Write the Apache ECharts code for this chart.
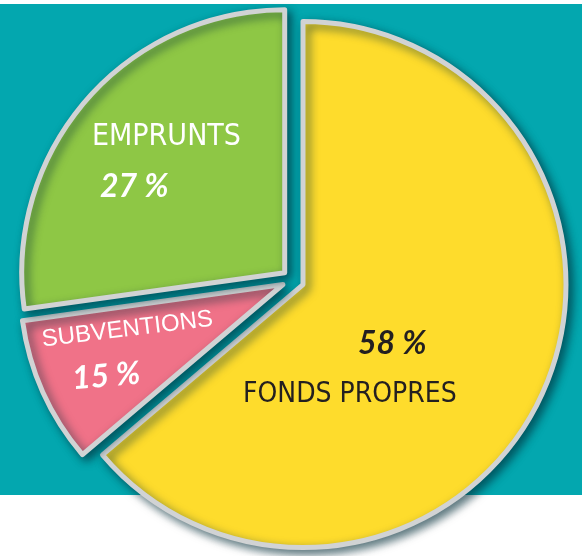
<!DOCTYPE html>
<html>
<head>
<meta charset="utf-8">
<script src="https://cdn.jsdelivr.net/npm/echarts@6/dist/echarts.min.js"></script>
<style>
  html, body { margin: 0; padding: 0; background: #fff; }
  #chart { width: 582px; height: 556px; }
</style>
</head>
<body>
<div id="chart"></div>
<script>
  // slices, clockwise from 12 o'clock
  const categories = ['FONDS PROPRES', 'SUBVENTIONS', 'EMPRUNTS'];
  // percentages printed on the artwork
  const printedPercent = [58, 15, 27];
  // wedge sizes as actually drawn in the artwork
  const wedgeShare = [63.8, 9.0, 27.2];

  const colors = ['#FEDC2C', '#F07288', '#8EC745'];
  const textColors = ['#231F20', '#FFFFFF', '#FFFFFF'];

  // where the two text lines of each slice sit (left edge, vertical middle of caps)
  const nameStyle = [
    { x: 243, y: 395, rot: 0, size: 28, font: '"DejaVu Sans Condensed", "Liberation Sans", sans-serif' },
    { x: 42, y: 340, rot: 7, size: 24, font: '"Liberation Sans", Arial, sans-serif' },
    { x: 92, y: 137, rot: 0, size: 30, font: '"DejaVu Sans Condensed", "Liberation Sans", sans-serif' }
  ];
  const pctStyle = [
    { x: 358, y: 344, rot: 0 },
    { x: 72, y: 379, rot: 5 },
    { x: 100, y: 187, rot: 0 }
  ];
  const pctFont = 'Lato, "Open Sans", sans-serif';

  const pieData = categories.map(function (name, i) {
    return {
      name: name,
      value: wedgeShare[i],
      selected: true,
      itemStyle: { color: colors[i] },
      select: { itemStyle: { color: colors[i] } }
    };
  });

  const texts = [];
  categories.forEach(function (name, i) {
    const n = nameStyle[i];
    const p = pctStyle[i];
    texts.push({
      type: 'text',
      z: 10,
      x: n.x,
      y: n.y,
      rotation: n.rot * Math.PI / 180,
      style: {
        text: name,
        fill: textColors[i],
        fontFamily: n.font,
        fontSize: n.size,
        align: 'left',
        verticalAlign: 'middle'
      }
    });
    texts.push({
      type: 'text',
      z: 10,
      x: p.x,
      y: p.y,
      rotation: p.rot * Math.PI / 180,
      style: {
        text: printedPercent[i] + ' %',
        fill: textColors[i],
        fontFamily: pctFont,
        fontStyle: 'italic',
        fontWeight: 'bold',
        fontSize: 32,
        align: 'left',
        verticalAlign: 'middle'
      }
    });
  });

  const chart = echarts.init(document.getElementById('chart'), null, { renderer: 'canvas' });

  chart.setOption({
    animation: false,
    graphic: [{
      type: 'rect',
      z: 0,
      shape: { x: 0, y: 4, width: 582, height: 491 },
      style: { fill: '#03A7AF' }
    }].concat(texts),
    series: [{
      type: 'pie',
      z: 2,
      center: [293, 280],
      radius: [0, 263],
      startAngle: 90,
      clockwise: true,
      selectedMode: 'multiple',
      selectedOffset: 11,
      emphasis: { disabled: true },
      itemStyle: {
        borderColor: '#D1D3D4',
        borderWidth: 5,
        shadowBlur: 10,
        shadowOffsetX: 4,
        shadowOffsetY: 4,
        shadowColor: 'rgba(0, 45, 55, 0.65)'
      },
      select: {
        itemStyle: { borderColor: '#D1D3D4', borderWidth: 5 }
      },
      label: { show: false },
      labelLine: { show: false },
      data: pieData
    }]
  });
</script>
</body>
</html>
